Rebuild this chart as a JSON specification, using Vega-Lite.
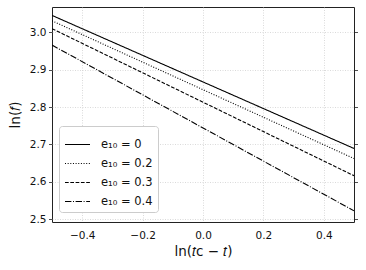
{
  "$schema": "https://vega.github.io/schema/vega-lite/v6.json",
  "autosize": "none",
  "width": 302,
  "height": 215,
  "padding": {"left": 52, "top": 7, "right": 12, "bottom": 48},
  "background": "white",
  "config": {
    "font": "DejaVu Sans",
    "view": {"stroke": "#222", "strokeWidth": 1},
    "axis": {"labelFont": "DejaVu Sans", "titleFont": "DejaVu Sans", "labelColor": "#111", "titleColor": "#111", "labelFontSize": 10.5, "titleFontSize": 13.5, "titleFontWeight": "normal"}
  },
  "data": {"values": [
    {"series": "e₁₀ = 0", "x": -0.5, "y": 3.0455},
    {"series": "e₁₀ = 0", "x": 0.5, "y": 2.689},
    {"series": "e₁₀ = 0.2", "x": -0.5, "y": 3.031},
    {"series": "e₁₀ = 0.2", "x": 0.5, "y": 2.662},
    {"series": "e₁₀ = 0.3", "x": -0.5, "y": 3.010},
    {"series": "e₁₀ = 0.3", "x": 0.5, "y": 2.616},
    {"series": "e₁₀ = 0.4", "x": -0.5, "y": 2.966},
    {"series": "e₁₀ = 0.4", "x": 0.5, "y": 2.522}
  ]},
  "layer": [
    {
      "mark": {"type": "line", "color": "black", "strokeWidth": 1.1, "clip": true},
      "encoding": {
        "x": {"field": "x", "type": "quantitative", "scale": {"domain": [-0.5, 0.5], "nice": false, "zero": false},
          "axis": {"values": [-0.4, -0.2, 0, 0.2, 0.4], "format": ".1f", "ticks": false, "domain": false, "labelPadding": 8, "title": "ln(𝑡c − 𝑡)", "titlePadding": 4,
            "grid": true, "gridColor": "#d0d0d0", "gridDash": [1, 1.5], "gridWidth": 0.8}},
        "y": {"field": "y", "type": "quantitative", "scale": {"domain": [2.492, 3.068], "nice": false, "zero": false},
          "axis": {"orient": "left", "values": [2.5, 2.6, 2.7, 2.8, 2.9, 3.0], "format": ".1f", "ticks": true, "tickSize": 3.5, "tickColor": "#222", "tickWidth": 0.8, "labelPadding": 2.5, "domain": false, "title": "ln(𝑓)", "titlePadding": 7,
            "grid": true, "gridColor": "#d0d0d0", "gridDash": [1, 1.5], "gridWidth": 0.8}},
        "strokeDash": {"field": "series", "type": "nominal",
          "scale": {"domain": ["e₁₀ = 0", "e₁₀ = 0.2", "e₁₀ = 0.3", "e₁₀ = 0.4"], "range": [[1, 0], [1, 1.65], [3.7, 1.6], [6.4, 1.6, 1, 1.6]]},
          "legend": {"orient": "none", "legendX": 7, "legendY": 119, "title": null, "symbolType": "stroke", "symbolSize": 625, "symbolStrokeWidth": 1.2, "symbolStrokeColor": "black",
            "labelFontSize": 11.5, "labelFont": "DejaVu Sans", "labelColor": "#111", "labelOffset": 10, "rowPadding": -3.5,
            "fillColor": "white", "strokeColor": "#cccccc", "cornerRadius": 3, "padding": 5}}
      }
    },
    {
      "mark": {"type": "point", "opacity": 0},
      "encoding": {
        "x": {"field": "x", "type": "quantitative"},
        "y": {"field": "y", "type": "quantitative",
          "axis": {"orient": "right", "values": [2.5, 2.6, 2.7, 2.8, 2.9, 3.0], "labels": false, "ticks": true, "tickSize": 3.5, "tickColor": "#222", "tickWidth": 0.8, "domain": false, "grid": false, "title": null}}
      }
    }
  ],
  "resolve": {"axis": {"y": "independent"}}
}
